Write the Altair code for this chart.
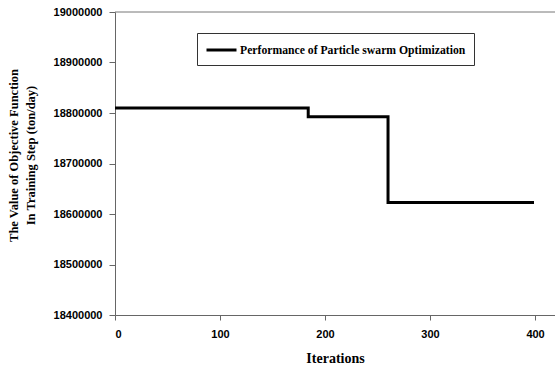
import altair as alt
import pandas as pd

iterations = [0, 184, 260, 399]
objective = [18810000, 18792500, 18623000, 18623000]
series_name = "Performance of Particle swarm Optimization"
y_ticks = [18400000, 18500000, 18600000, 18700000, 18800000, 18900000, 19000000]
x_ticks = [0, 100, 200, 300, 400]
y_title = ["The Value of Objective Function", "In Training Step (ton/day)"]
x_title = "Iterations"

df = pd.DataFrame({"Iterations": iterations, "Objective": objective,
                   "Series": [series_name] * len(iterations)})
top_df = pd.DataFrame({"Objective": [y_ticks[-1]]})

label_font = "Liberation Sans"
title_font = "Liberation Serif"

y_scale = alt.Scale(domain=[18400000, 19000000], nice=False, zero=False)

line = alt.Chart(df).mark_line(interpolate="step-after", strokeWidth=3).encode(
    x=alt.X("Iterations:Q",
            scale=alt.Scale(domain=[0, 419], nice=False, zero=False),
            axis=alt.Axis(values=x_ticks, title=x_title, grid=False,
                          labelFont=label_font, labelFontWeight="bold", labelFontSize=11,
                          labelColor="black", tickSize=5, labelPadding=8,
                          domainColor="#666", tickColor="#666",
                          titleFont=title_font, titleFontWeight="bold", titleFontSize=14,
                          titleColor="black", titlePadding=12)),
    y=alt.Y("Objective:Q", scale=y_scale,
            axis=alt.Axis(values=y_ticks, format="d", title=y_title, grid=False,
                          labelFont=label_font, labelFontWeight="bold", labelFontSize=11,
                          labelColor="black", tickSize=6, labelPadding=7,
                          domainColor="#666", tickColor="#666",
                          titleFont=title_font, titleFontWeight="bold", titleFontSize=12.5,
                          titleColor="black", titleLineHeight=17,
                          titleX=-95, titleY=143, titleBaseline="bottom")),
    color=alt.Color("Series:N", scale=alt.Scale(range=["black"]),
                    legend=alt.Legend(title=None, orient="none", legendX=82, legendY=21,
                                      strokeColor="#333", padding=8,
                                      symbolType="M-1,0H3", symbolSize=225,
                                      symbolStrokeWidth=3, symbolStrokeColor="black",
                                      labelFont=title_font, labelFontWeight="bold",
                                      labelFontSize=11.7, labelColor="black",
                                      labelOffset=17, labelLimit=400)),
)

top = alt.Chart(top_df).mark_rule(color="#777", strokeWidth=1).encode(
    y=alt.Y("Objective:Q", scale=y_scale)
)

chart = alt.layer(line, top).properties(
    width=440, height=303,
    padding={"left": 115, "top": 12, "right": 0, "bottom": 55},
    autosize="none",
).configure_view(stroke=None)

chart.save("out.html", embed_options={"renderer": "svg", "actions": False})
